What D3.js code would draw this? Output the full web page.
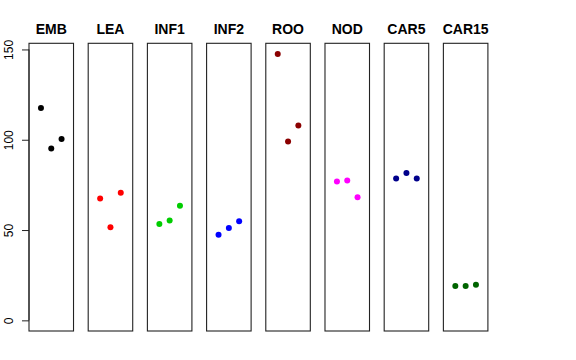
<!DOCTYPE html>
<html>
<head>
<meta charset="utf-8">
<script src="https://cdn.jsdelivr.net/npm/d3@7"></script>
<style>
  html, body { margin: 0; padding: 0; background: #fff; }
  svg { display: block; }
  text { font-family: "Liberation Sans", Arial, Helvetica, sans-serif; }
</style>
</head>
<body>
<svg id="chart" width="576" height="360"></svg>
<script>
// ---- data ----
const categories = ["EMB", "LEA", "INF1", "INF2", "ROO", "NOD", "CAR5", "CAR15"];
const replicateIndex = [1, 2, 3];
const valuesEMB   = [117.6, 95.1, 100.4];
const valuesLEA   = [67.5, 51.6, 70.6];
const valuesINF1  = [53.4, 55.3, 63.4];
const valuesINF2  = [47.4, 51.2, 54.9];
const valuesROO   = [147.5, 99.0, 107.9];
const valuesNOD   = [76.9, 77.4, 68.2];
const valuesCAR5  = [78.5, 81.6, 78.5];
const valuesCAR15 = [19.0, 19.0, 19.7];
const yTicks = [0, 50, 100, 150];
const colors = ["#000000", "#FF0000", "#00CD00", "#0000FF", "#8B0000", "#FF00FF", "#00008B", "#006400"];

const seriesValues = [valuesEMB, valuesLEA, valuesINF1, valuesINF2, valuesROO, valuesNOD, valuesCAR5, valuesCAR15];

// ---- layout ----
const svg = d3.select("#chart");
const plotTop = 43.3, plotBottom = 331;

const band = d3.scaleBand()
  .domain(categories)
  .range([29, 487.9])
  .paddingInner(0.248)
  .paddingOuter(0);

// R-style 4% extended limits: ylim c(0, max), xlim c(0, 4)
const yMax = d3.max(seriesValues.flat());
const yExt = 0.04 * yMax;
const y = d3.scaleLinear().domain([0 - yExt, yMax + yExt]).range([plotBottom, plotTop]);

const xExt = 0.04 * 4;
const xInner = d3.scaleLinear().domain([0 - xExt, 4 + xExt]).range([0, band.bandwidth()]);

categories.forEach((cat, i) => {
  const g = svg.append("g").attr("transform", `translate(${band(cat)},0)`);
  g.append("rect")
    .attr("x", 0).attr("y", plotTop)
    .attr("width", band.bandwidth()).attr("height", plotBottom - plotTop)
    .attr("fill", "none").attr("stroke", "#222").attr("stroke-width", 1.1);
  g.append("text")
    .attr("x", band.bandwidth() / 2).attr("y", 33.5)
    .attr("text-anchor", "middle")
    .attr("font-weight", "bold").attr("font-size", "14px")
    .text(cat);
  g.selectAll("circle")
    .data(seriesValues[i].map((v, j) => ({ x: replicateIndex[j], v })))
    .enter().append("circle")
    .attr("cx", d => xInner(d.x))
    .attr("cy", d => y(d.v))
    .attr("r", 3)
    .attr("fill", colors[i]);
});

// ---- y axis on first panel ----
const axis = d3.axisLeft(y).tickValues(yTicks).tickSize(7).tickPadding(4).tickFormat(d3.format("d"));
const ax = svg.append("g").attr("transform", `translate(${band(categories[0])},0)`).call(axis);
ax.select(".domain").attr("stroke", "#222").attr("d", `M0,${y(0)}V${y(150)}`);
ax.selectAll(".tick line").attr("stroke", "#222");
ax.selectAll(".tick text")
  .attr("font-size", "12px")
  .attr("fill", "#000")
  .attr("x", 0)
  .attr("y", 0)
  .attr("dy", "0.35em")
  .attr("text-anchor", "middle")
  .attr("transform", "translate(-20.5,0) rotate(-90)");
</script>
</body>
</html>
